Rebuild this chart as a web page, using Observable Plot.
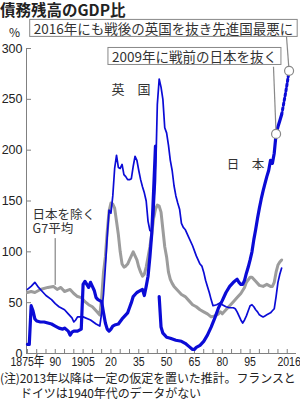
<!DOCTYPE html>
<html><head><meta charset="utf-8">
<script src="https://cdn.jsdelivr.net/npm/d3@7"></script>
<script src="https://cdn.jsdelivr.net/npm/@observablehq/plot@0.6"></script>
<style>
body{margin:0;width:300px;height:400px;overflow:hidden;background:#fff;font-family:"Noto Sans CJK JP",sans-serif;color:#222;}
#title{font-size:15.5px;font-weight:bold;line-height:19px;height:19px;white-space:nowrap;}
#chart{height:350px;}
#note{font-size:12px;line-height:15px;white-space:nowrap;letter-spacing:-0.1px;margin-top:1px;}
#note .l2{padding-left:20px;}
</style></head><body>
<div id="title">債務残高のGDP比</div>
<div id="chart"></div>
<div id="note"><div>(注)2013年以降は一定の仮定を置いた推計。フランスと</div><div class="l2">ドイツは1940年代のデータがない</div></div>
<script>
// ---- data ----
const japanYears = [1875,1876,1877,1878,1879,1880,1882,1884,1886,1888,1890,1892,1894,1895,1897,1898,1899,1900,1902,1904,1905,1906,1907,1908,1909,1910,1911,1912,1913,1914,1915,1916,1917,1918,1919,1920,1921,1922,1924,1926,1928,1929,1930,1931,1932,1933,1934,1936,1937,1938,1939,1940,1941,1942,1943,1944,1945,1946,1947,1948,1949,1950,1952,1955,1958,1960,1962,1964,1965,1966,1968,1970,1972,1974,1976,1978,1980,1982,1984,1986,1988,1989,1990,1991,1992,1993,1994,1995,1996,1997,1998,1999,2000,2001,2002,2003,2004,2005,2006,2007,2008,2009,2010,2011,2012];
const japanValues = [9,9,47,42,34,32,31,31,30,29,27,25,24,25,22,18,21,22,22,24,68,71,68,65,70,66,62,55,53,52,51,40,30,24,22,24,27,28,29,34,38,40,45,50,56,58,60,62,63,57,66,76,95,118,160,204,null,56,26,20,18,16,15,13,12,10,7,4,4,6,8,12,18,26,35,45,52,60,66,70,73,70,68,68,72,79,85,92,100,112,122,133,143,152,160,167,174,180,190,187,197,216,223,229,235];
const projYears = [2012,2013,2014,2015,2016];
const projValues = [235,245,255,266,278];

const ukYears = [1875,1877,1879,1881,1883,1885,1888,1890,1892,1895,1897,1899,1900,1901,1902,1905,1909,1912,1914,1915,1916,1917,1918,1919,1920,1921,1922,1923,1924,1925,1926,1927,1928,1929,1930,1931,1932,1933,1934,1935,1936,1937,1938,1939,1940,1941,1942,1943,1944,1945,1946,1947,1948,1949,1950,1951,1952,1953,1954,1955,1956,1957,1958,1959,1960,1962,1964,1966,1968,1969,1970,1971,1972,1973,1974,1975,1977,1979,1980,1982,1984,1986,1987,1988,1989,1990,1991,1992,1993,1994,1995,1996,1997,1998,1999,2000,2001,2002,2003,2004,2005,2006,2007,2008,2009,2010,2011,2012];
const ukValues = [63,66,70,65,61,57,53,49,46,43,39,35,31,33,36,36,33,29,27,40,58,85,115,141,138,155,182,195,183,182,186,176,174,171,171,172,184,194,190,180,171,164,158,150,130,121,120,135,170,245,270,262,250,222,217,205,190,180,165,155,148,142,128,124,122,114,106,96,88,86,80,72,66,60,53,47,48,50,48,46,45,45,44,41,37,33,30,33,37,42,47,48,46,43,41,38,37,36,37,38,39,40,42,44,56,70,78,84];

const g7Years = [1875,1877,1879,1882,1886,1889,1891,1893,1895,1898,1900,1902,1904,1906,1908,1910,1912,1914,1915,1916,1917,1918,1919,1920,1921,1922,1923,1924,1925,1926,1927,1928,1929,1930,1931,1932,1933,1934,1935,1936,1937,1938,1939,1940,1941,1942,1943,1944,1945,1946,1947,1948,1949,1950,1951,1952,1953,1954,1956,1958,1960,1962,1964,1966,1968,1970,1972,1974,1976,1978,1979,1980,1982,1984,1986,1988,1990,1992,1993,1995,1996,1998,2000,2002,2004,2006,2007,2008,2009,2010,2011,2012];
const g7Values = [60,61,60,63,65,66,63,65,61,63,59,56,55,51,48,46,42,38,55,80,95,120,140,148,147,143,130,117,100,88,85,86,88,92,96,100,96,92,85,80,76,78,85,95,105,118,133,142,146,145,139,122,105,95,80,73,69,66,62,58,56,52,48,46,43,41,39,36,37,39,41,39,43,47,51,55,59,65,70,75,75,71,67,66,68,66,66,70,80,87,90,92];

const yTicks = [0,50,100,150,200,250,300];
const xMinorTicks = d3.range(1875, 2016, 5);
const xLabelYears = [1875,1890,1905,1920,1935,1950,1965,1980,1995,2016];
const markerYears = [2009, 2016];

const seriesLabels = ["英　国", "日　本", "日本を除く\nG7平均"];
const callouts = ["2016年にも戦後の英国を抜き先進国最悪に", "2009年に戦前の日本を抜く"];

// ---- tables ----
const rows = (ys, vs) => ys.map((y, i) => ({year: y, value: vs[i]}));
const japan = rows(japanYears, japanValues);
const proj = rows(projYears, projValues);
const uk = rows(ukYears, ukValues);
const g7 = rows(g7Years, g7Values);
const allJapan = japan.concat(proj);
const markers = markerYears.map(y => allJapan.find(d => d.year === y));

const BLUE = "#0b0bd6", GRAY = "#9c9c9c", AXIS = "#808080";
const numFont = "'Liberation Sans','Noto Sans CJK JP',sans-serif";
const fmtX = d => d === 1875 ? "1875年" : (d === 1905 || d === 2016) ? String(d) : String(d).slice(2);

const plot = Plot.plot({
  width: 300, height: 350,
  marginLeft: 26, marginRight: 4, marginTop: 29, marginBottom: 16,
  x: {domain: [1874.5, 2020]},
  y: {domain: [0, 300]},
  style: {fontFamily: "'Noto Sans CJK JP',sans-serif", fontSize: "12px", color: "#222", background: "transparent", overflow: "visible"},
  marks: [
    Plot.ruleX([1874.5], {y1: 0, y2: 300, stroke: AXIS}),
    Plot.ruleY([0], {stroke: AXIS}),
    Plot.axisY(yTicks, {tickSize: 5, dx: 5, tickFormat: () => "", stroke: AXIS, label: null}),
    Plot.axisY(yTicks, {tickSize: 0, tickPadding: 4, fontSize: 12.5, fontFamily: numFont, label: null}),
    Plot.axisX(xMinorTicks, {tickSize: 4, dy: -4, tickFormat: () => "", stroke: AXIS, label: null}),
    Plot.axisX(xLabelYears, {tickSize: 0, tickPadding: 3, fontSize: 13.5, fontFamily: numFont, tickFormat: fmtX, label: null}),
    Plot.text(["%"], {frameAnchor: "top-left", dx: -12, dy: -20, textAnchor: "middle", fontSize: 12}),
    // series
    Plot.line(g7, {x: "year", y: "value", stroke: GRAY, strokeWidth: 3}),
    Plot.line(uk, {x: "year", y: "value", stroke: BLUE, strokeWidth: 1.7}),
    Plot.line(japan, {x: "year", y: "value", stroke: BLUE, strokeWidth: 3.2}),
    Plot.line(proj, {x: "year", y: "value", stroke: BLUE, strokeWidth: 3, strokeDasharray: "2.2,2.6"}),
    // series labels
    Plot.text([seriesLabels[0]], {x: 1930.8, y: 259.5, fontSize: 13, fill: "#333"}),
    Plot.text([seriesLabels[1]], {x: 1992.5, y: 185, fontSize: 12.5, fill: "#333"}),
    Plot.text([seriesLabels[2]], {x: 1877.8, y: 129.5, textAnchor: "start", fontSize: 12.5, lineHeight: 1.1, fill: "#333"}),
    Plot.ruleX([1890], {y1: 113, y2: 67, stroke: GRAY, strokeWidth: 1.5}),
    // callouts
    Plot.link([markers[1]], {x1: "year", y1: "value", x2: 2014.6, y2: 312, stroke: "#888", strokeWidth: 1.2}),
    Plot.link([markers[0]], {x1: "year", y1: "value", x2: 2007.6, y2: 282, stroke: "#888", strokeWidth: 1.2}),
    Plot.dot(markers, {x: "year", y: "value", r: 4.5, fill: "white", stroke: "#888", strokeWidth: 1.2}),
    Plot.text([callouts[0]], {x: 1948.3, y: 318.6, fontSize: 13.5, fill: "#333"}),
    Plot.text([callouts[1]], {x: 1965, y: 291, fontSize: 13.5, fill: "#333"})
  ]
});
document.getElementById("chart").append(plot);

// condense the x tick labels (narrow newspaper figures)
plot.querySelectorAll('g[aria-label="x-axis tick label"] text').forEach(t => {
  const tr = t.getAttribute("transform") || "";
  t.setAttribute("transform", tr + " scale(0.78,1)");
});

// draw boxes behind callout texts
for (const t of plot.querySelectorAll("text")) {
  if (callouts.includes(t.textContent)) {
    const b = t.getBBox();
    const cy = b.y + b.height / 2;
    const r = document.createElementNS("http://www.w3.org/2000/svg", "rect");
    r.setAttribute("x", b.x - 4);
    r.setAttribute("y", cy - 8.5);
    r.setAttribute("width", b.width + 8);
    r.setAttribute("height", 17);
    r.setAttribute("fill", "white");
    r.setAttribute("stroke", "#888");
    r.setAttribute("stroke-width", "1");
    const tr = t.getAttribute("transform");
    if (tr) r.setAttribute("transform", tr);
    t.parentNode.insertBefore(r, t);
  }
}
</script>
</body></html>
